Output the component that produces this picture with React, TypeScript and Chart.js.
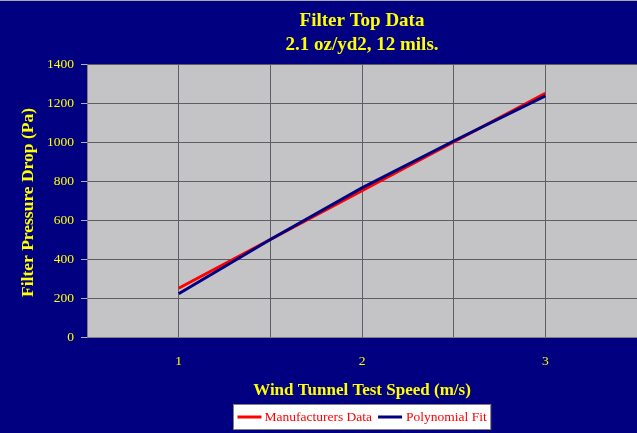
import React, { useEffect, useRef } from "react";
import { Chart, registerables } from "chart.js";

Chart.register(...registerables);

const titleLines = ["Filter Top Data", "2.1 oz/yd2, 12 mils."];
const xAxisTitle = "Wind Tunnel Test Speed (m/s)";
const yAxisTitle = "Filter Pressure Drop (Pa)";

const dataSpeeds = [1, 2, 3];
const manufacturersData = [250, 750, 1250];
const fitSpeeds = [1, 1.5, 2, 2.5, 3];
const polynomialFit = [222, 500, 765, 1005, 1237];

const seriesNames = ["Manufacturers Data", "Polynomial Fit"];
const seriesColors = ["#ff0000", "#000080"];

const xMin = 0.5;
const xMax = 3.5;
const xStep = 0.5;
const yMin = 0;
const yMax = 1400;
const yStep = 200;

const NAVY = "#000080";
const YELLOW = "#ffff00";
const SERIF = '"Liberation Serif", "Times New Roman", serif';

export default function App() {
  const canvasRef = useRef<HTMLCanvasElement | null>(null);

  useEffect(() => {
    const canvas = canvasRef.current;
    if (!canvas) return;

    const decorPlugin = {
      id: "decor",
      beforeDraw(chart: any) {
        const { ctx, chartArea } = chart;
        ctx.save();
        ctx.fillStyle = NAVY;
        ctx.fillRect(0, 0, chart.width, chart.height);
        ctx.fillStyle = "#a8a8b0";
        ctx.fillRect(0, 0, chart.width, 1);
        ctx.fillStyle = "#c4c3c6";
        ctx.fillRect(
          chartArea.left,
          chartArea.top,
          chartArea.right - chartArea.left,
          chartArea.bottom - chartArea.top
        );
        ctx.restore();
      },
      afterDraw(chart: any) {
        const { ctx, chartArea } = chart;
        const cx = (chartArea.left + chartArea.right) / 2;
        const cy = (chartArea.top + chartArea.bottom) / 2;
        ctx.save();
        ctx.fillStyle = YELLOW;
        ctx.textAlign = "center";
        ctx.textBaseline = "middle";
        ctx.font = `bold 19px ${SERIF}`;
        ctx.fillText(titleLines[0], cx, 21);
        ctx.fillText(titleLines[1], cx, 45);

        ctx.font = `bold 17px ${SERIF}`;
        ctx.fillText(xAxisTitle, cx, 391);

        ctx.save();
        ctx.translate(28, cy + 2);
        ctx.rotate(-Math.PI / 2);
        ctx.font = `bold 17.5px ${SERIF}`;
        ctx.fillText(yAxisTitle, 0, 0);
        ctx.restore();

        // legend
        ctx.font = `13.5px ${SERIF}`;
        const lineLen = 24;
        const w0 = ctx.measureText(seriesNames[0]).width;
        const w1 = ctx.measureText(seriesNames[1]).width;
        const padL = 4;
        const padR = 4;
        const gapA = 3;
        const gapB = 6;
        const gapC = 4;
        const total = padL + lineLen + gapA + w0 + gapB + lineLen + gapC + w1 + padR;
        const lx = Math.round(cx - total / 2) + 0.5;
        const ly = 404.5;
        const lh = 25;
        ctx.fillStyle = "#ffffff";
        ctx.fillRect(lx, ly, total, lh);
        ctx.strokeStyle = "#808080";
        ctx.lineWidth = 1;
        ctx.strokeRect(lx, ly, total, lh);
        const midY = ly + lh / 2;
        let x = lx + padL;
        ctx.lineWidth = 3;
        ctx.strokeStyle = seriesColors[0];
        ctx.beginPath();
        ctx.moveTo(x, midY);
        ctx.lineTo(x + lineLen, midY);
        ctx.stroke();
        x += lineLen + gapA;
        ctx.fillStyle = "#ff0000";
        ctx.textAlign = "left";
        ctx.fillText(seriesNames[0], x, midY);
        x += w0 + gapB;
        ctx.strokeStyle = seriesColors[1];
        ctx.beginPath();
        ctx.moveTo(x, midY);
        ctx.lineTo(x + lineLen, midY);
        ctx.stroke();
        x += lineLen + gapC;
        ctx.fillText(seriesNames[1], x, midY);
        ctx.restore();
      },
    };

    const chart = new Chart(canvas, {
      type: "line",
      data: {
        datasets: [
          {
            label: seriesNames[0],
            data: dataSpeeds.map((s, i) => ({ x: s, y: manufacturersData[i] })),
            borderColor: seriesColors[0],
            backgroundColor: seriesColors[0],
            borderWidth: 3,
            pointRadius: 0,
            tension: 0,
            order: 1,
          },
          {
            label: seriesNames[1],
            data: fitSpeeds.map((s, i) => ({ x: s, y: polynomialFit[i] })),
            borderColor: seriesColors[1],
            backgroundColor: seriesColors[1],
            borderWidth: 3,
            pointRadius: 0,
            tension: 0,
            order: 0,
          },
        ],
      },
      options: {
        responsive: false,
        animation: false,
        layout: { padding: { top: 64, left: 0, right: 0, bottom: 0 } },
        plugins: {
          legend: { display: false },
          title: { display: false },
          tooltip: { enabled: false },
        },
        scales: {
          x: {
            type: "linear",
            min: xMin,
            max: xMax,
            afterFit: (scale: any) => {
              scale.height = 96;
              scale.paddingLeft = 0;
              scale.paddingRight = 0;
            },
            afterBuildTicks: (scale: any) => {
              const t = [];
              for (let v = xMin; v <= xMax + 1e-9; v += xStep) t.push({ value: v });
              scale.ticks = t;
            },
            ticks: {
              autoSkip: false,
              maxRotation: 0,
              color: YELLOW,
              font: { family: SERIF, size: 13.5 },
              padding: 9,
              callback: (v: any) => (Number.isInteger(v) ? String(v) : ""),
            },
            grid: {
              color: "#5e5e62",
              lineWidth: 1,
              tickLength: 7,
              tickColor: "rgba(0,0,0,0)",
            },
            border: { display: true, color: "#808080", width: 1 },
          },
          y: {
            type: "linear",
            min: yMin,
            max: yMax,
            afterFit: (scale: any) => {
              scale.width = 87;
              scale.paddingTop = 0;
              scale.paddingBottom = 0;
            },
            ticks: {
              stepSize: yStep,
              color: YELLOW,
              font: { family: SERIF, size: 13.5 },
              padding: 7,
              callback: (v: any) => String(v),
            },
            grid: {
              color: "#5e5e62",
              lineWidth: 1,
              tickLength: 6,
              tickColor: "#b0b0b8",
            },
            border: { display: true, color: "#808080", width: 1 },
          },
        },
      },
      plugins: [decorPlugin],
    });

    return () => {
      chart.destroy();
    };
  }, []);

  return (
    <div style={{ position: "absolute", left: 0, top: 0, width: 637, height: 433 }}>
      <canvas ref={canvasRef} width={637} height={433} />
    </div>
  );
}
